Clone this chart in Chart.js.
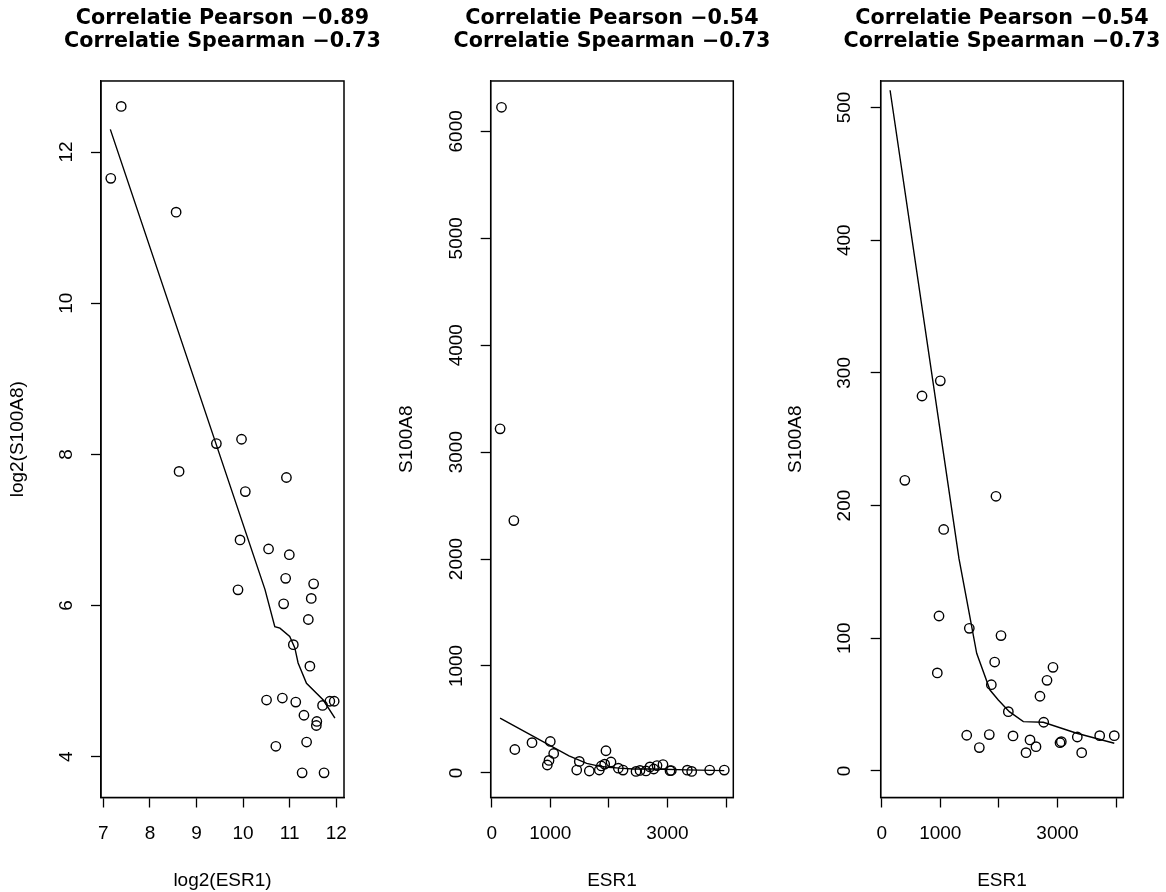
<!DOCTYPE html>
<html>
<head>
<meta charset="utf-8">
<script src="https://cdn.jsdelivr.net/npm/chart.js@4"></script>
<style>
  body { margin: 0; background: #ffffff; overflow: hidden; }
  #wrap { position: relative; width: 1166px; height: 892px; overflow: hidden; }
  canvas { position: absolute; top: 0; }
</style>
</head>
<body>
<div id="wrap">
  <canvas id="panel1" width="445" height="892" style="left:0px"></canvas>
  <canvas id="panel2" width="446" height="892" style="left:389px"></canvas>
  <canvas id="panel3" width="448" height="892" style="left:778px"></canvas>
</div>
<script>
// raw expression values (read from the middle / right panels)
const esr1 = [167, 143, 378, 395, 688, 1000, 1950, 1058, 978, 1495, 2036, 1928, 2923, 949, 2821, 1871,
              2701, 2161, 2765, 1451, 1836, 2241, 3338, 3720, 3969, 2531, 3065, 3043, 1666, 2633, 2463, 3413];
const s100a8 = [6225, 3218, 2360, 219, 282.6, 294, 207, 182, 116.8, 107.5, 102, 82.1, 78.1, 73.9, 68.3, 65,
                56.3, 44.7, 36.7, 26.9, 27.4, 26.4, 25.6, 26.6, 26.6, 23.4, 22.1, 21.3, 17.6, 18.3, 13.8, 13.8];

// lowess curves as drawn
const lowessLogX = [7.15, 10.47, 10.68, 10.79, 11.0, 11.11, 11.18, 11.36, 11.72, 11.97];
const lowessLogY = [12.30, 6.21, 5.72, 5.70, 5.59, 5.44, 5.24, 4.97, 4.75, 4.51];
const lowessX = [143, 1319, 1451, 1621, 1848, 1990, 2178, 2417, 2531, 2758, 3328, 3969];
const lowessY = [513, 160, 129, 88.7, 61, 53.5, 44.7, 37.2, 37, 36.7, 28.4, 20.9];

// titles
const titles1 = ["Correlatie Pearson \u22120.89", "Correlatie Spearman \u22120.73"];
const titles2 = ["Correlatie Pearson \u22120.54", "Correlatie Spearman \u22120.73"];
const titles3 = ["Correlatie Pearson \u22120.54", "Correlatie Spearman \u22120.73"];

// ticks
const xTicks1 = [7, 8, 9, 10, 11, 12];
const xTickLabels1 = ["7", "8", "9", "10", "11", "12"];
const yTicks1 = [4, 6, 8, 10, 12];
const xTicks2 = [0, 1000, 2000, 3000, 4000];
const xTickLabels2 = ["0", "1000", "", "3000", ""];
const yTicks2 = [0, 1000, 2000, 3000, 4000, 5000, 6000];
const yTicks3 = [0, 100, 200, 300, 400, 500];

const FONT = "'Liberation Sans', Arial, Helvetica, sans-serif";
const TITLE_FONT = "'DejaVu Sans', 'Liberation Sans', sans-serif";

function toPoints(xs, ys) {
    return xs.map(function(x, i) { return {x: x, y: ys[i]}; });
}

// draws the R style box round the plot region
const boxPlugin = {
    id: 'box',
    afterDraw: function(chart) {
        let a = chart.chartArea;
        let ctx = chart.ctx;
        ctx.save();
        ctx.strokeStyle = '#000';
        ctx.lineWidth = 1.5;
        ctx.strokeRect(a.left, a.top, a.right - a.left, a.bottom - a.top);
        ctx.restore();
    }
};

// each canvas is as wide as twice the plot centre, so the title centres over the box;
// an empty right axis keeps the space on the right of the box
function makePanel(id, cfg) {
    let ctx = document.getElementById(id).getContext('2d');
    return new Chart(ctx, {
        type: 'scatter',
        data: {
            datasets: [{
                data: cfg.points,
                showLine: false,
                pointStyle: 'circle',
                pointRadius: 4.7,
                pointBorderWidth: 1.4,
                borderColor: '#000',
                backgroundColor: 'rgba(0,0,0,0)'
            }, {
                data: cfg.line,
                showLine: true,
                pointRadius: 0,
                borderWidth: 1.4,
                borderColor: '#000',
                tension: 0
            }]
        },
        options: {
            responsive: false,
            animation: false,
            devicePixelRatio: 1,
            layout: { padding: 0 },
            plugins: {
                legend: { display: false },
                tooltip: { enabled: false },
                title: {
                    display: true,
                    text: cfg.title,
                    color: '#000',
                    font: { family: TITLE_FONT, size: 20.7, weight: 'bold', lineHeight: 1.13 },
                    padding: { top: 6.6, bottom: 27.6 }
                }
            },
            scales: {
                x: {
                    type: 'linear',
                    min: cfg.xMin,
                    max: cfg.xMax,
                    afterBuildTicks: function(scale) {
                        scale.ticks = cfg.xTicks.map(function(v) { return {value: v}; });
                    },
                    afterFit: function(scale) { scale.height = 94.5; },
                    grid: { drawOnChartArea: false, drawTicks: true, tickLength: 10, tickColor: '#000', tickWidth: 1.3 },
                    border: { display: true, color: '#000', width: 1.3 },
                    ticks: {
                        color: '#000',
                        font: { family: FONT, size: 19 },
                        padding: 15,
                        maxRotation: 0,
                        autoSkip: false,
                        callback: function(value, index) { return cfg.xLabels[index]; }
                    },
                    title: {
                        display: true,
                        text: cfg.xTitle,
                        color: '#000',
                        font: { family: FONT, size: 19, lineHeight: 1.2 },
                        padding: { top: 2.6, bottom: 0 }
                    }
                },
                y: {
                    type: 'linear',
                    min: cfg.yMin,
                    max: cfg.yMax,
                    afterBuildTicks: function(scale) {
                        scale.ticks = cfg.yTicks.map(function(v) { return {value: v}; });
                    },
                    afterFit: function(scale) { scale.width = cfg.boxLeft; },
                    grid: { drawOnChartArea: false, drawTicks: true, tickLength: 10, tickColor: '#000', tickWidth: 1.3 },
                    border: { display: true, color: '#000', width: 1.3 },
                    ticks: {
                        color: '#000',
                        font: { family: FONT, size: 19 },
                        minRotation: 90,
                        maxRotation: 90,
                        crossAlign: 'center',
                        padding: cfg.yTickPad,
                        autoSkip: false,
                        callback: function(value) { return String(value); }
                    },
                    title: {
                        display: true,
                        text: cfg.yTitle,
                        color: '#000',
                        font: { family: FONT, size: 19, lineHeight: 1.2 },
                        padding: { top: 6.6, bottom: 0 }
                    }
                },
                spacer: {
                    type: 'linear',
                    position: 'right',
                    display: true,
                    afterFit: function(scale) { scale.width = cfg.rightPad; },
                    grid: { display: false, drawTicks: false },
                    border: { display: false },
                    ticks: { display: false }
                }
            }
        },
        plugins: [boxPlugin]
    });
}

makePanel('panel1', {
    points: toPoints(esr1.map(Math.log2), s100a8.map(Math.log2)),
    line: toPoints(lowessLogX, lowessLogY),
    title: titles1,
    xMin: 6.95, xMax: 12.165, yMin: 3.46, yMax: 12.94,
    xTicks: xTicks1, xLabels: xTickLabels1, yTicks: yTicks1,
    xTitle: 'log2(ESR1)', yTitle: 'log2(S100A8)',
    boxLeft: 101, rightPad: 101, yTickPad: 13.4
});

makePanel('panel2', {
    points: toPoints(esr1, s100a8),
    line: toPoints(lowessX, lowessY),
    title: titles2,
    xMin: -17, xMax: 4123, yMin: -230, yMax: 6471,
    xTicks: xTicks2, xLabels: xTickLabels2, yTicks: yTicks2,
    xTitle: 'ESR1', yTitle: 'S100A8',
    boxLeft: 101.7, rightPad: 101.7, yTickPad: 2.9
});

makePanel('panel3', {
    points: toPoints(esr1, s100a8),
    line: toPoints(lowessX, lowessY),
    title: titles3,
    xMin: -17, xMax: 4123, yMin: -20, yMax: 520,
    xTicks: xTicks2, xLabels: xTickLabels2, yTicks: yTicks3,
    xTitle: 'ESR1', yTitle: 'S100A8',
    boxLeft: 102.7, rightPad: 102.7, yTickPad: 9.9
});
</script>
</body>
</html>
